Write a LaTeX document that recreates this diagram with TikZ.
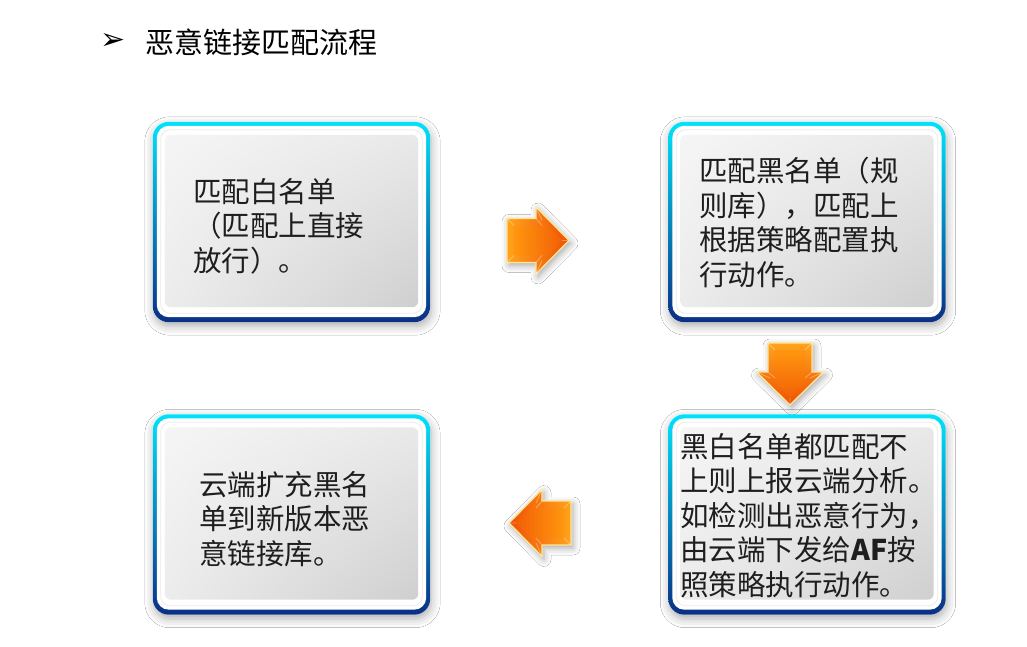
\documentclass[tikz,border=0pt]{standalone}
\usepackage{fontspec}
\setmainfont{Noto Sans CJK SC}
\newfontfamily\dejavu{DejaVu Sans}
\usetikzlibrary{shadows.blur,shadings}
\definecolor{cyanT}{HTML}{00E3FA}
\definecolor{cyanM}{HTML}{08A6E4}
\definecolor{navyB}{HTML}{0A2F85}
\definecolor{gUL}{HTML}{F5F5F5}
\definecolor{gUR}{HTML}{E9E9E9}
\definecolor{gLL}{HTML}{ECECEC}
\definecolor{gLR}{HTML}{CFCFCF}
\definecolor{arY}{HTML}{FFA41C}
\definecolor{arR}{HTML}{EE5006}
\definecolor{arIY}{HTML}{FF960F}
\definecolor{arIR}{HTML}{F26006}
\definecolor{arEdge}{HTML}{FFE596}
\definecolor{txt}{HTML}{1E1E1E}
\tikzset{
  card/.style={minimum width=277pt, minimum height=200pt, inner sep=0pt},
  cardtxt/.style={anchor=north west, inner sep=0pt, align=left, text=txt,
    font=\fontsize{28.5pt}{34.5pt}\selectfont},
  arrowface/.style={draw=arEdge, line width=1.3pt, line join=round},
  arrowinner/.style={line join=round},
  bevel/.style={draw=white, draw opacity=0.35, line width=0.8pt},
  arrowshadow/.style={fill=white, draw=none, blur shadow={shadow xshift=2pt, shadow yshift=-3pt, shadow blur radius=7pt, shadow opacity=35}},
}
\newcommand\cardbg[1]{%
  \fill[white, rounded corners=16pt, blur shadow={shadow xshift=1pt,shadow yshift=-4pt,shadow blur radius=9pt,shadow opacity=32}] (#1.south west) rectangle (#1.north east);
  \shade[rounded corners=16pt, top color=cyanT, middle color=cyanM, bottom color=navyB] (#1.south west) rectangle (#1.north east);
  \fill[white, rounded corners=12pt] ([shift={(4pt,5pt)}]#1.south west) rectangle ([shift={(-4pt,-4pt)}]#1.north east);
  \draw[black!8, line width=0.8pt, rounded corners=9pt] ([shift={(8pt,9pt)}]#1.south west) rectangle ([shift={(-8pt,-8pt)}]#1.north east);
  \shade[rounded corners=6pt, upper left=gUL, upper right=gUR, lower left=gLL, lower right=gLR] ([shift={(12pt,15pt)}]#1.south west) rectangle ([shift={(-12pt,-13pt)}]#1.north east);
}
\begin{document}
\begin{tikzpicture}[x=1pt,y=-1pt]
\useasboundingbox (0,0) rectangle (1027,647);
\fill[white] (0,0) rectangle (1027,647);

% title
\node[inner sep=0pt, font=\dejavu\fontsize{30pt}{30pt}\selectfont] (bullet) at (113,42) {➢};
\node[anchor=west, inner sep=0pt, font=\fontsize{29pt}{29pt}\selectfont] (title) at (145,42) {恶意链接匹配流程};

% boxes
\node[card] (b1) at (291.5,222) {};
\node[card] (b2) at (807,222) {};
\node[card] (b3) at (291.5,514.5) {};
\node[card] (b4) at (807,514.5) {};
\cardbg{b1}
\cardbg{b2}
\cardbg{b3}
\cardbg{b4}

\node[cardtxt] (t1) at (193,178) {匹配白名单\\（匹配上直接\\放行）。};
\node[cardtxt] (t2) at (699,157) {匹配黑名单（规\\则库），匹配上\\根据策略配置执\\行动作。};
\node[cardtxt] (t3) at (199,471) {云端扩充黑名\\单到新版本恶\\意链接库。};
\node[cardtxt] (t4) at (680,433) {黑白名单都匹配不\\上则上报云端分析。\\如检测出恶意行为，\\由云端下发给\textbf{AF}按\\照策略执行动作。};

% right arrow (b1 -> b2)
\path[arrowshadow] (507,218.5) -- (536,218.5) -- (536,207) -- (569,240.5) -- (536,274) -- (536,262.5) -- (507,262.5) -- cycle;
\shade[arrowface, left color=arY, right color=arR] (507,218.5) -- (536,218.5) -- (536,207) -- (569,240.5) -- (536,274) -- (536,262.5) -- (507,262.5) -- cycle;
\shade[arrowinner, left color=arIY, right color=arIR] (514,225.5) -- (542,225.5) -- (542,220.5) -- (562,240.5) -- (542,260.5) -- (542,255.5) -- (514,255.5) -- cycle;
\draw[bevel] (507,218.5) -- (514,225.5) (536,218.5) -- (542,225.5) (536,207) -- (542,220.5) (569,240.5) -- (562,240.5) (536,274) -- (542,260.5) (536,262.5) -- (542,255.5) (507,262.5) -- (514,255.5);

% down arrow (b2 -> b4)
\path[arrowshadow] (768,343) -- (768,372) -- (756.5,372) -- (790,405) -- (823.5,372) -- (812,372) -- (812,343) -- cycle;
\shade[arrowface, top color=arY, bottom color=arR] (768,343) -- (768,372) -- (756.5,372) -- (790,405) -- (823.5,372) -- (812,372) -- (812,343) -- cycle;
\shade[arrowinner, top color=arIY, bottom color=arIR] (775,350) -- (775,378) -- (770,378) -- (790,398) -- (810,378) -- (805,378) -- (805,350) -- cycle;
\draw[bevel] (768,343) -- (775,350) (768,372) -- (775,378) (756.5,372) -- (770,378) (790,405) -- (790,398) (823.5,372) -- (810,378) (812,372) -- (805,378) (812,343) -- (805,350);

% left arrow (b4 -> b3)
\path[arrowshadow] (571,501) -- (542,501) -- (542,489.5) -- (509,523) -- (542,556.5) -- (542,545) -- (571,545) -- cycle;
\shade[arrowface, left color=arR, right color=arY] (571,501) -- (542,501) -- (542,489.5) -- (509,523) -- (542,556.5) -- (542,545) -- (571,545) -- cycle;
\shade[arrowinner, left color=arIR, right color=arIY] (564,508) -- (536,508) -- (536,503) -- (516,523) -- (536,543) -- (536,538) -- (564,538) -- cycle;
\draw[bevel] (571,501) -- (564,508) (542,501) -- (536,508) (542,489.5) -- (536,503) (509,523) -- (516,523) (542,556.5) -- (536,543) (542,545) -- (536,538) (571,545) -- (564,538);
\end{tikzpicture}
\end{document}
